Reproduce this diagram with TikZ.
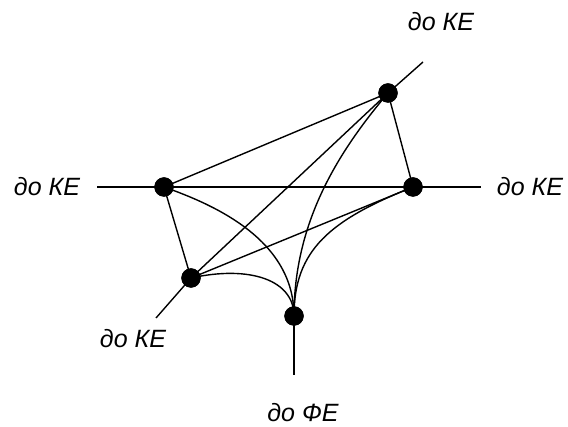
\documentclass[tikz,border=0pt]{standalone}
\usepackage{fontspec}
\setmainfont{Liberation Sans}
\begin{document}
\begin{tikzpicture}[x=1pt,y=-1pt,
  dot/.style={circle,fill=black,draw=black,inner sep=0pt,minimum size=19pt},
  edge/.style={line width=1.4pt,draw=black},
  lbl/.style={font=\fontsize{25}{28}\selectfont\itshape,inner sep=0pt}]
\useasboundingbox (0,0) rectangle (568,427);
\node[dot] (T) at (388,93) {};
\node[dot] (L) at (164,187) {};
\node[dot] (R) at (413,187) {};
\node[dot] (BL) at (191,278) {};
\node[dot] (B) at (294,316) {};
\coordinate (Tend) at (423,62);
\coordinate (Lend) at (97,187);
\coordinate (Rend) at (481,187);
\coordinate (BLend) at (156,318);
\coordinate (Bend) at (294,375);
\node[lbl] (tT) at (441,22) {до КЕ};
\node[lbl] (tL) at (47,187) {до КЕ};
\node[lbl] (tR) at (530,187) {до КЕ};
\node[lbl] (tBL) at (133,339) {до КЕ};
\node[lbl] (tB) at (303,413) {до ФЕ};
\draw[edge] (T.center) -- (Tend);
\draw[edge] (L.center) -- (Lend);
\draw[edge] (R.center) -- (Rend);
\draw[edge] (BL.center) -- (BLend);
\draw[edge] (B.center) -- (Bend);
\draw[edge] (T.center) -- (L.center);
\draw[edge] (T.center) -- (R.center);
\draw[edge] (T.center) -- (BL.center);
\draw[edge] (L.center) -- (R.center);
\draw[edge] (L.center) -- (BL.center);
\draw[edge] (R.center) -- (BL.center);
\draw[edge] (T.center) .. controls (340,150) and (294,220) .. (B.center);
\draw[edge] (L.center) .. controls (215,205) and (294,240) .. (B.center);
\draw[edge] (R.center) .. controls (330,220) and (294,250) .. (B.center);
\draw[edge] (BL.center) .. controls (250,265) and (294,280) .. (B.center);
\foreach \n in {T,L,R,BL,B} \fill (\n) circle (9.5pt);
\end{tikzpicture}
\end{document}
